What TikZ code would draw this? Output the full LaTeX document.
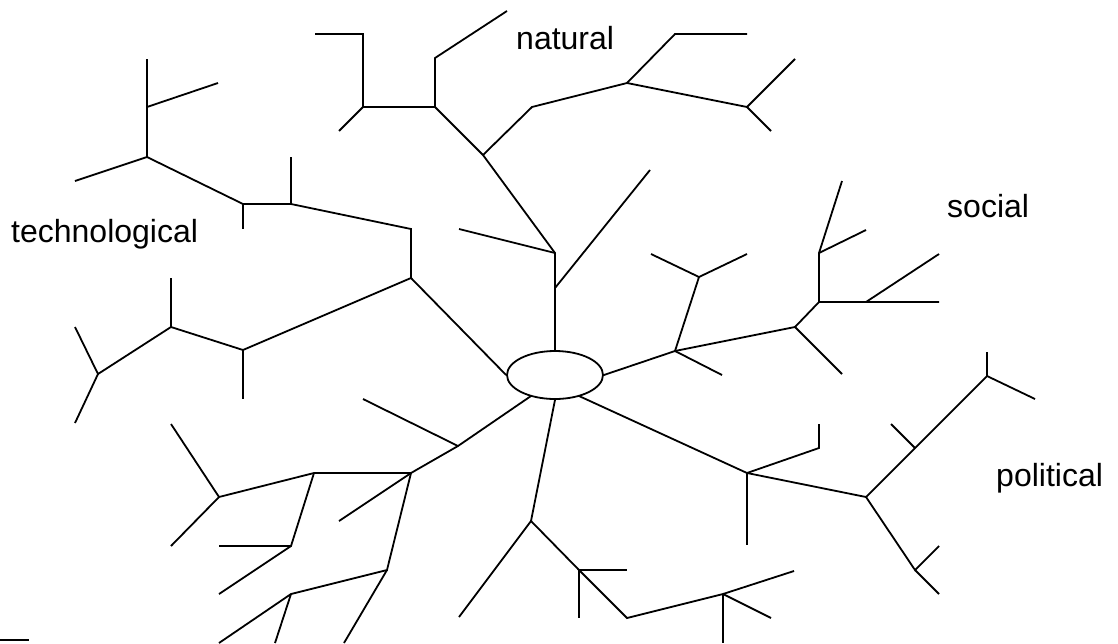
\documentclass[tikz,border=0pt]{standalone}
\usepackage{fontspec}
\setmainfont{Liberation Sans}
\usetikzlibrary{shapes.geometric}
\begin{document}
\begin{tikzpicture}[x=1pt,y=-1pt,
  br/.style={line width=1.8pt, black},
  lbl/.style={anchor=base west, inner sep=0pt, font=\fontsize{32}{36}\selectfont}]
\useasboundingbox (0,0) rectangle (1118,643);
\node[draw, line width=1.8pt, ellipse, minimum width=96pt, minimum height=48pt, inner sep=0pt] (E) at (555,375) {};
% ellipse contact points
\coordinate (eN) at (E.north);
\coordinate (eE) at (E.east);
\coordinate (eS) at (E.south);
\coordinate (eW) at (E.west);
\coordinate (eSE) at (579,396);
\coordinate (eSW) at (531,396);
% natural
\coordinate (n1) at (555,288); \coordinate (n2) at (555,253);
\coordinate (n1a) at (650,170); \coordinate (n2a) at (459,229);
\coordinate (n3) at (483,155); \coordinate (n4) at (435,107);
\coordinate (n5) at (532,107); \coordinate (n4a) at (435,58);
\coordinate (n4b) at (507,11); \coordinate (n6) at (363,107);
\coordinate (n6a) at (363,34); \coordinate (n6b) at (315,34);
\coordinate (n6c) at (339,131); \coordinate (n7) at (627,83);
\coordinate (n7a) at (675,34); \coordinate (n7b) at (747,34);
\coordinate (n8) at (747,107); \coordinate (n8a) at (795,59);
\coordinate (n8b) at (771,131);
% social
\coordinate (s1) at (675,351); \coordinate (s1a) at (722,375);
\coordinate (s2) at (699,277); \coordinate (s2a) at (651,254);
\coordinate (s2b) at (747,254); \coordinate (s3) at (795,327);
\coordinate (s3a) at (842,374); \coordinate (s4) at (819,302);
\coordinate (s5) at (819,253); \coordinate (s5a) at (842,181);
\coordinate (s5b) at (866,230); \coordinate (s6) at (939,302);
\coordinate (s7) at (866,302); \coordinate (s7a) at (939,254);
% political
\coordinate (p1) at (747,473); \coordinate (p1a) at (819,448);
\coordinate (p1b) at (819,424); \coordinate (p1c) at (747,545);
\coordinate (p2) at (866,497); \coordinate (p3) at (915,448);
\coordinate (p3a) at (891,424); \coordinate (p4) at (987,376);
\coordinate (p4a) at (987,352); \coordinate (p4b) at (1035,399);
\coordinate (p5) at (915,570); \coordinate (p5a) at (939,546);
\coordinate (p5b) at (939,594);
% bottom
\coordinate (b1) at (531,521); \coordinate (b1a) at (459,617);
\coordinate (b2) at (579,570); \coordinate (b2a) at (627,570);
\coordinate (b2b) at (579,618); \coordinate (b3) at (627,618);
\coordinate (b4) at (723,594); \coordinate (b4a) at (794,571);
\coordinate (b4b) at (723,643); \coordinate (b4c) at (771,618);
% lower left
\coordinate (l1) at (458,446); \coordinate (l1a) at (363,399);
\coordinate (l2) at (411,473); \coordinate (l3) at (314,473);
\coordinate (l4) at (219,497); \coordinate (l4a) at (171,424);
\coordinate (l4b) at (171,546); \coordinate (l5) at (291,546);
\coordinate (l5a) at (219,546); \coordinate (l5b) at (219,594);
\coordinate (l2a) at (339,521); \coordinate (l6) at (387,570);
\coordinate (l7) at (291,594); \coordinate (l7a) at (219,643);
\coordinate (l7b) at (275,643); \coordinate (l6a) at (344,643);
% technological
\coordinate (t1) at (411,278); \coordinate (t2) at (411,229);
\coordinate (t3) at (291,204); \coordinate (t3a) at (291,157);
\coordinate (t4) at (243,204); \coordinate (t4a) at (243,229);
\coordinate (t5) at (147,157); \coordinate (t5a) at (75,181);
\coordinate (t6) at (147,107); \coordinate (t6a) at (218,83);
\coordinate (t6b) at (147,59); \coordinate (t7) at (243,350);
\coordinate (t7a) at (243,399); \coordinate (t8) at (171,327);
\coordinate (t8a) at (171,278); \coordinate (t9) at (98,374);
\coordinate (t9a) at (75,327); \coordinate (t9b) at (75,423);
% corner
\coordinate (c1) at (0,640); \coordinate (c2) at (29,640);

% natural lines
\draw[br] (eN) -- (n1) -- (n2) -- (n3) -- (n4) -- (n4a) -- (n4b);
\draw[br] (n1) -- (n1a);
\draw[br] (n2) -- (n2a);
\draw[br] (n4) -- (n6) -- (n6a) -- (n6b);
\draw[br] (n6) -- (n6c);
\draw[br] (n3) -- (n5) -- (n7) -- (n8) -- (n8a);
\draw[br] (n8) -- (n8b);
\draw[br] (n7) -- (n7a) -- (n7b);
% social lines
\draw[br] (eE) -- (s1) -- (s3) -- (s4) -- (s6);
\draw[br] (s1) -- (s1a);
\draw[br] (s1) -- (s2) -- (s2a);
\draw[br] (s2) -- (s2b);
\draw[br] (s3) -- (s3a);
\draw[br] (s4) -- (s5) -- (s5a);
\draw[br] (s5) -- (s5b);
\draw[br] (s7) -- (s7a);
% political lines
\draw[br] (eSE) -- (p1) -- (p2) -- (p3) -- (p4) -- (p4b);
\draw[br] (p4) -- (p4a);
\draw[br] (p3) -- (p3a);
\draw[br] (p1) -- (p1a) -- (p1b);
\draw[br] (p1) -- (p1c);
\draw[br] (p2) -- (p5) -- (p5a);
\draw[br] (p5) -- (p5b);
% bottom lines
\draw[br] (eS) -- (b1) -- (b1a);
\draw[br] (b1) -- (b2) -- (b3) -- (b4) -- (b4a);
\draw[br] (b2) -- (b2a);
\draw[br] (b2) -- (b2b);
\draw[br] (b4) -- (b4b);
\draw[br] (b4) -- (b4c);
% lower left lines
\draw[br] (eSW) -- (l1) -- (l2) -- (l3) -- (l4) -- (l4a);
\draw[br] (l1) -- (l1a);
\draw[br] (l4) -- (l4b);
\draw[br] (l3) -- (l5) -- (l5a);
\draw[br] (l5) -- (l5b);
\draw[br] (l2) -- (l2a);
\draw[br] (l2) -- (l6) -- (l7) -- (l7a);
\draw[br] (l7) -- (l7b);
\draw[br] (l6) -- (l6a);
% technological lines
\draw[br] (eW) -- (t1) -- (t2) -- (t3) -- (t4) -- (t5) -- (t6) -- (t6b);
\draw[br] (t3) -- (t3a);
\draw[br] (t4) -- (t4a);
\draw[br] (t5) -- (t5a);
\draw[br] (t6) -- (t6a);
\draw[br] (t1) -- (t7) -- (t8) -- (t9) -- (t9a);
\draw[br] (t7) -- (t7a);
\draw[br] (t8) -- (t8a);
\draw[br] (t9) -- (t9b);
% corner
\draw[br] (c1) -- (c2);
% labels
\node[lbl] (natural) at (516,49.5) {natural};
\node[lbl] (tech) at (11,242.5) {technological};
\node[lbl] (social) at (947,217.5) {social};
\node[lbl] (political) at (996,486) {political};
\end{tikzpicture}
\end{document}
